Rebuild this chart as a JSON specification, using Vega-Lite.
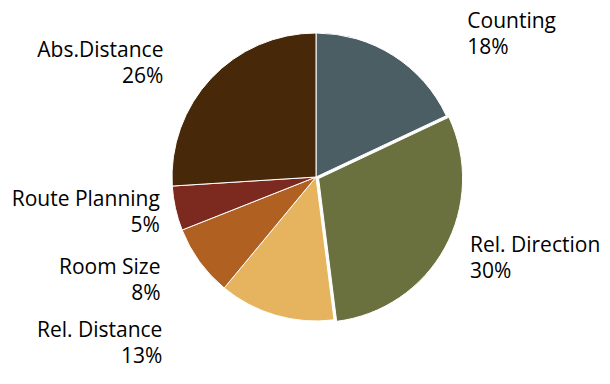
{
  "$schema": "https://vega.github.io/schema/vega-lite/v6.json",
  "width": 610,
  "height": 384,
  "autosize": {"type": "fit", "contains": "padding"},
  "padding": {"left": 22, "right": 0, "top": 0, "bottom": 30},
  "background": "white",
  "config": {"view": {"stroke": null}, "text": {"font": "Open Sans", "fontSize": 21, "lineHeight": 26, "lineBreak": "\n", "baseline": "alphabetic", "color": "#000000"}},
  "data": {"values": [
    {"task": "Counting", "pct": 18, "label": "Counting\n18%"},
    {"task": "Rel. Direction", "pct": 30, "label": "Rel. Direction\n30%"},
    {"task": "Rel. Distance", "pct": 13, "label": "Rel. Distance\n13%"},
    {"task": "Room Size", "pct": 8, "label": "Room Size\n8%"},
    {"task": "Route Planning", "pct": 5, "label": "Route Planning\n5%"},
    {"task": "Abs.Distance", "pct": 26, "label": "Abs.Distance\n26%"}
  ]},
  "transform": [{"stack": "pct", "groupby": [], "as": ["t0", "t1"]}],
  "layer": [
    {
      "transform": [{"filter": "datum.task !== 'Rel. Direction'"}],
      "mark": {"type": "arc", "radius": 144, "stroke": "white", "strokeWidth": 1},
      "encoding": {
        "theta": {"field": "t0", "type": "quantitative", "scale": {"domain": [0, 100]}},
        "theta2": {"field": "t1"},
        "color": {"field": "task", "type": "nominal", "legend": null, "scale": {
          "domain": ["Counting", "Rel. Direction", "Rel. Distance", "Room Size", "Route Planning", "Abs.Distance"],
          "range": ["#4a5e63", "#6b703f", "#e6b45e", "#b06020", "#7c2a1f", "#472809"]}}
      }
    },
    {
      "transform": [{"filter": "datum.task === 'Rel. Direction'"}],
      "mark": {"type": "arc", "radius": 144, "stroke": "white", "strokeWidth": 1, "xOffset": 2.6, "yOffset": 1.5},
      "encoding": {
        "theta": {"field": "t0", "type": "quantitative", "scale": {"domain": [0, 100]}},
        "theta2": {"field": "t1"},
        "color": {"field": "task", "type": "nominal", "legend": null}
      }
    },
    {
      "mark": {"type": "text", "radius": 176, "align": "left", "dx": 57, "dy": 0},
      "encoding": {
        "theta": {"field": "pct", "type": "quantitative", "stack": true, "scale": {"domain": [0, 100]}},
        "order": {"field": "t0", "type": "quantitative"},
        "text": {"condition": {"test": "datum.task === 'Counting'", "field": "label", "type": "nominal"}, "value": ""}
      }
    },
    {
      "mark": {"type": "text", "radius": 170, "align": "left", "dx": 5, "dy": -7},
      "encoding": {
        "theta": {"field": "pct", "type": "quantitative", "stack": true, "scale": {"domain": [0, 100]}},
        "order": {"field": "t0", "type": "quantitative"},
        "text": {"condition": {"test": "datum.task === 'Rel. Direction'", "field": "label", "type": "nominal"}, "value": ""}
      }
    },
    {
      "mark": {"type": "text", "radius": 167, "align": "right", "dx": -107, "dy": 0},
      "encoding": {
        "theta": {"field": "pct", "type": "quantitative", "stack": true, "scale": {"domain": [0, 100]}},
        "order": {"field": "t0", "type": "quantitative"},
        "text": {"condition": {"test": "datum.task === 'Rel. Distance'", "field": "label", "type": "nominal"}, "value": ""}
      }
    },
    {
      "mark": {"type": "text", "radius": 165, "align": "right", "dx": -22, "dy": 0},
      "encoding": {
        "theta": {"field": "pct", "type": "quantitative", "stack": true, "scale": {"domain": [0, 100]}},
        "order": {"field": "t0", "type": "quantitative"},
        "text": {"condition": {"test": "datum.task === 'Room Size'", "field": "label", "type": "nominal"}, "value": ""}
      }
    },
    {
      "mark": {"type": "text", "radius": 160, "align": "right", "dx": 0, "dy": -6},
      "encoding": {
        "theta": {"field": "pct", "type": "quantitative", "stack": true, "scale": {"domain": [0, 100]}},
        "order": {"field": "t0", "type": "quantitative"},
        "text": {"condition": {"test": "datum.task === 'Route Planning'", "field": "label", "type": "nominal"}, "value": ""}
      }
    },
    {
      "mark": {"type": "text", "radius": 175, "align": "right", "dx": -25, "dy": 0},
      "encoding": {
        "theta": {"field": "pct", "type": "quantitative", "stack": true, "scale": {"domain": [0, 100]}},
        "order": {"field": "t0", "type": "quantitative"},
        "text": {"condition": {"test": "datum.task === 'Abs.Distance'", "field": "label", "type": "nominal"}, "value": ""}
      }
    }
  ]
}
